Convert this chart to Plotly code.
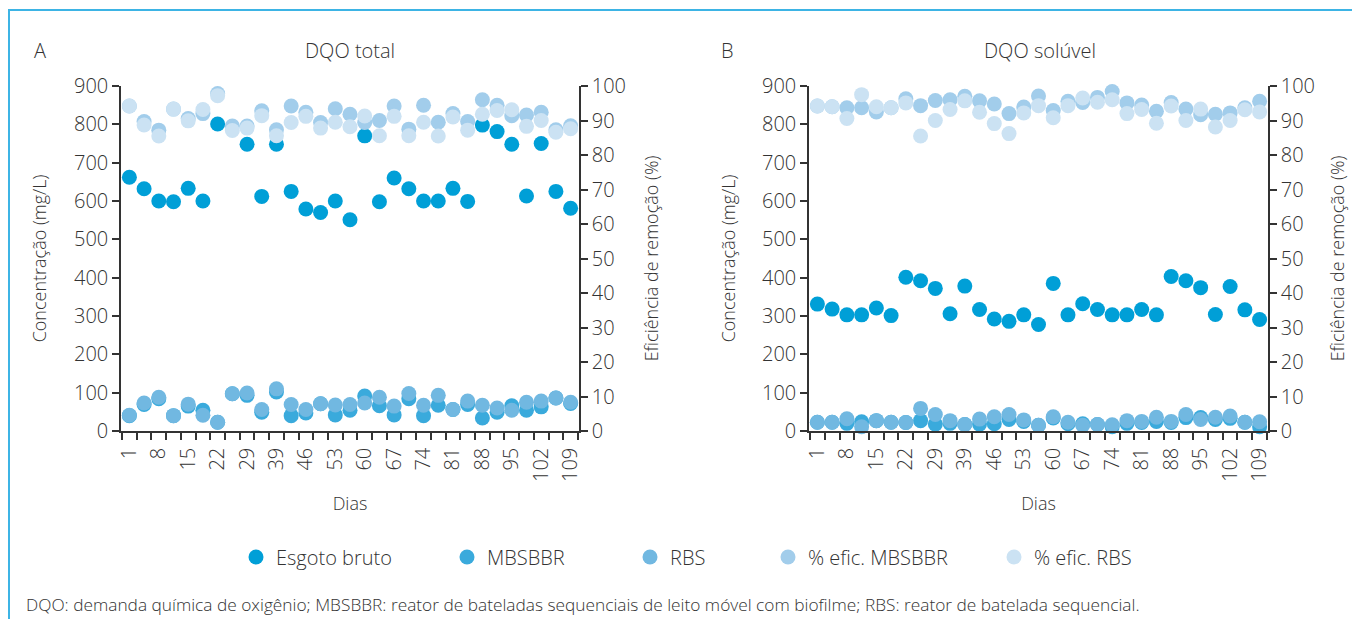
import plotly.graph_objects as go

# ---------------- data ----------------
coleta = list(range(31))  # collection index (31 sampling days)
dias_rotulos = ["1", "8", "15", "22", "29", "39", "46", "53", "60", "67",
                "74", "81", "88", "95", "102", "109"]  # labels on even collections

# Panel A - DQO total (mg/L)
a_bruto = [662, 632, 600, 598, 633, 600, 801, None, 748, 612, 748, 625, 579, 570, 600, 551,
           770, 598, 660, 632, 600, 600, 633, 599, 798, 781, 748, 613, 750, 625, 581]
a_mbsbbr = [40, 69, 84, 40, 65, 54, 23, 97, 93, 49, 102, 40, 47, 71, 42, 54,
            91, 66, 42, 84, 40, 67, 56, 69, 34, 49, 66, 54, 63, 86, 72]
a_rbs = [41, 73, 88, 40, 70, 41, 23, 97, 99, 56, 110, 69, 56, 71, 68, 69,
         73, 88, 65, 98, 67, 93, 56, 78, 67, 60, 54, 75, 78, 86, 75]
a_ef_mbsbbr = [94.2, 89.7, 87.2, 93.3, 90.6, 92.0, 97.8, 88.4, 88.4, 92.8, 87.3, 94.2, 92.4, 89.4, 93.4, 91.8,
               89.4, 90.0, 94.2, 87.5, 94.4, 89.5, 92.0, 89.7, 96.0, 94.4, 91.4, 91.6, 92.4, 87.3, 88.5]
a_ef_rbs = [94.2, 88.7, 85.5, 93.3, 89.9, 93.2, 97.2, 87.1, 87.8, 91.4, 85.6, 89.4, 91.2, 87.8, 89.5, 88.2,
            91.3, 85.6, 91.2, 85.6, 89.5, 85.5, 91.0, 87.2, 91.8, 92.9, 93.1, 88.3, 90.0, 86.6, 87.6]

# Panel B - DQO solúvel (mg/L)
b_bruto = [331, 318, 303, 303, 321, 301, 401, 392, 372, 306, 378, 317, 292, 286, 303, 278,
           385, 303, 332, 317, 303, 303, 317, 303, 403, 392, 374, 304, 377, 316, 291]
b_mbsbbr = [23, 23, 20, 24, 27, 23, 22, 27, 18, 20, 17, 18, 19, 30, 25, 15,
            34, 19, 19, 17, 11, 20, 22, 25, 22, 35, 35, 30, 33, 23, 11]
b_rbs = [23, 23, 32, 11, 27, 23, 22, 59, 43, 27, 17, 31, 37, 43, 29, 15,
         37, 23, 15, 17, 16, 27, 25, 36, 25, 43, 30, 36, 39, 23, 24]
b_ef_mbsbbr = [94.2, 94.0, 93.7, 93.7, 92.5, 93.7, 96.3, 94.3, 95.8, 96.0, 97.0, 95.7, 94.8, 92.0, 93.9, 97.1,
               92.9, 95.6, 95.2, 96.7, 98.4, 95.1, 94.5, 92.7, 95.2, 93.3, 91.7, 91.8, 92.2, 93.7, 95.6]
b_ef_rbs = [94.2, 94.0, 90.6, 97.5, 94.0, 93.7, 95.1, 85.5, 90.0, 93.2, 95.7, 92.4, 89.1, 86.2, 92.2, 94.3,
            90.8, 94.3, 96.5, 95.3, 96.0, 92.0, 93.2, 89.2, 94.2, 90.0, 93.3, 88.1, 90.0, 93.1, 92.5]

series_names = ["Esgoto bruto", "MBSBBR", "RBS", "% efic. MBSBBR", "% efic. RBS"]
colors = ["#009fd7", "#3aaadc", "#71b8e1", "#a2cdeb", "#cbe2f3"]

# ---------------- figure ----------------
# page body has an 8 px margin; reference pixel coords are converted accordingly
OFF = 8
W, H = 1360 - OFF, 619 - OFF
FONT = "Open Sans"
TXT = "#333333"

def px_x(p):
    return (p - OFF) / W

def px_y(p):
    return 1 - (p - OFF) / H

fig = go.Figure()

panels = [
    ("x", "y", "y2", [a_bruto, a_mbsbbr, a_rbs, a_ef_mbsbbr, a_ef_rbs], True),
    ("x2", "y3", "y4", [b_bruto, b_mbsbbr, b_rbs, b_ef_mbsbbr, b_ef_rbs], False),
]
legend_ids = ["legend", "legend2", "legend3", "legend4", "legend5"]
for xa, yl, yr, data, show in panels:
    for k, (name, col, vals) in enumerate(zip(series_names, colors, data)):
        fig.add_trace(go.Scatter(
            x=coleta, y=vals, mode="markers", name=name,
            marker=dict(color=col, size=15, line=dict(width=0)),
            xaxis=xa, yaxis=(yl if k < 3 else yr),
            showlegend=show, legend=legend_ids[k], cliponaxis=False,
        ))

ydom = [px_y(431), px_y(86)]
xdomA = [px_x(121), px_x(579)]
xdomB = [px_x(809), px_x(1268)]

tickfont = dict(family=FONT, size=20, color=TXT, weight=300)
titlefont = dict(family=FONT, size=18, color=TXT, weight=300)

def xaxis_cfg(dom, anchor):
    return dict(
        domain=dom, anchor=anchor, range=[-0.57, 30.57],
        showline=True, linecolor=TXT, linewidth=1.5, showgrid=False, zeroline=False,
        tickmode="array", tickvals=coleta[::2], ticktext=dias_rotulos,
        ticks="", tickangle=-90, ticklabelstandoff=7, tickfont=tickfont,
        minor=dict(tickmode="array", tickvals=[i - 0.5 for i in range(32)],
                   ticks="outside", ticklen=7, tickcolor=TXT, tickwidth=1.5, showgrid=False),
        title=dict(text="Dias", font=titlefont, standoff=16),
        automargin=False, fixedrange=True,
    )

def yleft_cfg(anchor, standoff):
    return dict(
        domain=ydom, anchor=anchor, range=[0, 900], tickmode="array",
        tickvals=list(range(0, 901, 100)), showline=True, linecolor=TXT, linewidth=1.5,
        ticks="outside", ticklen=7, tickcolor=TXT, tickwidth=1.5, showgrid=False, zeroline=False,
        tickfont=tickfont, title=dict(text="Concentração (mg/L)", font=titlefont, standoff=standoff),
        automargin=False,
    )

def yright_cfg(anchor, overlay, standoff):
    return dict(
        anchor=anchor, overlaying=overlay, side="right", range=[0, 100], tickmode="array",
        tickvals=list(range(0, 101, 10)), showline=True, linecolor=TXT, linewidth=1.5,
        ticks="outside", ticklen=7, tickcolor=TXT, tickwidth=1.5, showgrid=False, zeroline=False,
        tickfont=tickfont, title=dict(text="Eficiência de remoção (%)", font=titlefont, standoff=standoff),
        automargin=False,
    )

fig.update_layout(
    width=W, height=H,
    margin=dict(l=0, r=0, t=0, b=0),
    paper_bgcolor="white", plot_bgcolor="white",
    font=dict(family=FONT, color=TXT, weight=300),
    xaxis=xaxis_cfg(xdomA, "y"),
    xaxis2=xaxis_cfg(xdomB, "y3"),
    yaxis=yleft_cfg("x", 23),
    yaxis2=yright_cfg("x", "y", 20),
    yaxis3=yleft_cfg("x2", 22),
    yaxis4=yright_cfg("x2", "y3", 17),
    showlegend=True,
)

# legends: one per series so entries sit where the reference puts them
legend_marker_x = [256, 467, 650, 788, 1014]
for lid, mx in zip(legend_ids, legend_marker_x):
    fig.update_layout({lid: dict(
        x=px_x(mx - 20), y=px_y(557), xanchor="left", yanchor="middle",
        orientation="h", bgcolor="rgba(0,0,0,0)", borderwidth=0,
        font=dict(family=FONT, size=20, color=TXT, weight=300),
        itemclick=False, itemdoubleclick=False,
    )})

annots = [
    dict(text="A", x=px_x(32), y=px_y(50), xanchor="left"),
    dict(text="DQO total", x=px_x(350), y=px_y(50), xanchor="center"),
    dict(text="B", x=px_x(719), y=px_y(50), xanchor="left"),
    dict(text="DQO solúvel", x=px_x(1040), y=px_y(50), xanchor="center"),
]
for a in annots:
    fig.add_annotation(xref="paper", yref="paper", showarrow=False, yanchor="middle",
                       font=dict(family=FONT, size=20, color=TXT, weight=300), **a)

fig.add_annotation(
    xref="paper", yref="paper", showarrow=False, x=px_x(24), y=px_y(604),
    xanchor="left", yanchor="middle",
    text="DQO: demanda química de oxigênio; MBSBBR: reator de bateladas sequenciais de leito móvel com biofilme; RBS: reator de batelada sequencial.",
    font=dict(family=FONT, size=17.3, color=TXT, weight=300),
)

# frame lines (top and left)
border = "#3db4e5"
fig.add_shape(type="line", xref="paper", yref="paper", x0=px_x(8), x1=1, y0=px_y(10), y1=px_y(10),
              line=dict(color=border, width=2))
fig.add_shape(type="line", xref="paper", yref="paper", x0=px_x(9), x1=px_x(9), y0=px_y(10), y1=0,
              line=dict(color=border, width=2))

fig.write_html("out.html")
